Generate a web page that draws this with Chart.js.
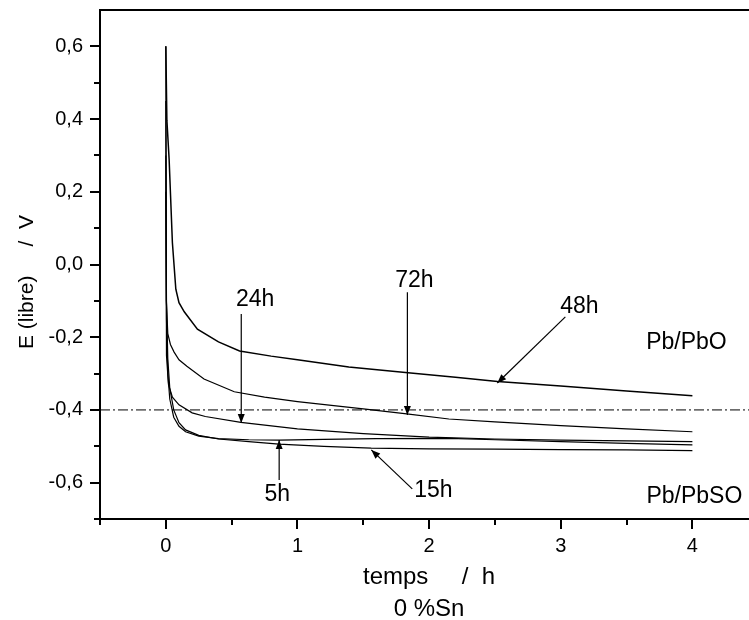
<!DOCTYPE html>
<html>
<head>
<meta charset="utf-8">
<script src="https://cdn.jsdelivr.net/npm/chart.js@4.4.1/dist/chart.umd.min.js"></script>
<style>html,body{margin:0;padding:0;background:#fff;}canvas{display:block;}</style>
</head>
<body>
<canvas id="c" width="749" height="620"></canvas>
<script>
// ---- data (time in h, potential in V) ----
const t5  = [0, 0.005, 0.015, 0.03, 0.06, 0.1, 0.15, 0.25, 0.4, 0.63, 0.86, 1.2, 1.6, 2.15, 2.5, 3.0, 3.5, 4.0];
const e5  = [0.3, -0.15, -0.3, -0.37, -0.42, -0.445, -0.46, -0.472, -0.479, -0.482, -0.483, -0.481, -0.479, -0.478, -0.482, -0.487, -0.492, -0.496];
const t15 = [0, 0.005, 0.015, 0.03, 0.06, 0.1, 0.15, 0.25, 0.4, 0.63, 0.86, 1.2, 1.56, 2.0, 2.5, 3.0, 3.5, 4.0];
const e15 = [0.2, -0.1, -0.26, -0.34, -0.4, -0.435, -0.455, -0.47, -0.48, -0.487, -0.494, -0.5, -0.505, -0.507, -0.508, -0.509, -0.51, -0.512];
const t24 = [0, 0.005, 0.02, 0.05, 0.1, 0.2, 0.3, 0.57, 1.0, 1.5, 2.0, 2.5, 3.0, 3.5, 4.0];
const e24 = [0.45, -0.25, -0.33, -0.365, -0.386, -0.408, -0.418, -0.434, -0.452, -0.465, -0.475, -0.48, -0.483, -0.485, -0.487];
const t48 = [0, 0.008, 0.025, 0.05, 0.076, 0.1, 0.14, 0.24, 0.4, 0.56, 0.8, 1.0, 1.39, 1.84, 2.2, 2.52, 3.0, 3.5, 4.0];
const e48 = [0.6, 0.397, 0.29, 0.06, -0.068, -0.105, -0.13, -0.178, -0.213, -0.238, -0.252, -0.262, -0.282, -0.298, -0.31, -0.322, -0.334, -0.348, -0.361];
const t72 = [0, 0.004, 0.015, 0.035, 0.063, 0.1, 0.16, 0.29, 0.52, 0.75, 1.0, 1.5, 1.83, 2.15, 2.5, 3.0, 3.5, 4.0];
const e72 = [0.6, -0.1, -0.19, -0.22, -0.241, -0.262, -0.28, -0.315, -0.35, -0.365, -0.377, -0.397, -0.411, -0.425, -0.433, -0.443, -0.452, -0.46];
const seriesNames = ['5h', '15h', '24h', '48h', '72h'];
const refLevel = -0.4;   // dash-dot reference line

// ---- axes ----
const xMin = -0.5, xMax = 4.43, yMin = -0.7, yMax = 0.7;
const xMajorTicks = [0, 1, 2, 3, 4];
const xTickLabels = ['0', '1', '2', '3', '4'];
const xMinorTicks = [-0.5, 0.5, 1.5, 2.5, 3.5];
const yMajorTicks = [-0.6, -0.4, -0.2, 0, 0.2, 0.4, 0.6];
const yTickLabels = ['-0,6', '-0,4', '-0,2', '0,0', '0,2', '0,4', '0,6'];
const yMinorTicks = [-0.7, -0.5, -0.3, -0.1, 0.1, 0.3, 0.5];
const xTitle = 'temps     /  h';
const xSubTitle = '0 %Sn';
const yTitle = 'E (libre)     /  V';

// ---- annotations (data coordinates) ----
const annTexts = ['24h', '72h', '48h', '5h', '15h', 'Pb/PbO', 'Pb/PbSO'];
const annX     = [0.679, 1.888, 3.142, 0.846, 2.032, 3.955, 3.651];
const annY     = [-0.114, -0.062, -0.133, -0.651, -0.640, -0.232, -0.656];
const annAlign = ['center', 'center', 'center', 'center', 'center', 'center', 'left'];
const arrowX1 = [0.573, 1.835, 3.035, 0.861, 1.872];
const arrowY1 = [-0.136, -0.076, -0.144, -0.593, -0.617];
const arrowX2 = [0.573, 1.835, 2.518, 0.861, 1.561];
const arrowY2 = [-0.436, -0.414, -0.326, -0.483, -0.510];

const FONT = "'Liberation Sans', Arial, Helvetica, sans-serif";
const pts = (t, e) => t.map((v, i) => ({x: v, y: e[i]}));

const seriesT = [t5, t15, t24, t48, t72];
const seriesE = [e5, e15, e24, e48, e72];
const datasets = seriesNames.map((n, i) => ({
  label: n,
  data: pts(seriesT[i], seriesE[i]),
  showLine: true,
  borderColor: '#000',
  borderWidth: n === '48h' ? 1.5 : 1.2,
  pointRadius: 0,
  tension: 0,
  fill: false
}));
datasets.push({
  label: 'ref',
  data: [{x: xMin, y: refLevel}, {x: xMax, y: refLevel}],
  showLine: true,
  borderColor: '#000',
  borderWidth: 1,
  borderDash: [10, 3, 2, 3],
  pointRadius: 0,
  fill: false
});

const decor = {
  id: 'decor',
  afterDraw(chart) {
    const {ctx, chartArea: a, scales: {x, y}} = chart;
    ctx.save();
    ctx.strokeStyle = '#000';
    ctx.fillStyle = '#000';
    // top frame line
    ctx.lineWidth = 2;
    ctx.beginPath();
    ctx.moveTo(a.left - 1, a.top);
    ctx.lineTo(a.right, a.top);
    ctx.stroke();
    // minor ticks
    ctx.beginPath();
    yMinorTicks.forEach(v => {
      const py = Math.round(y.getPixelForValue(v));
      ctx.moveTo(a.left, py); ctx.lineTo(a.left - 6, py);
    });
    xMinorTicks.forEach(v => {
      const px = Math.round(x.getPixelForValue(v));
      ctx.moveTo(px, a.bottom); ctx.lineTo(px, a.bottom + 6);
    });
    ctx.stroke();
    // arrows
    ctx.lineWidth = 1.2;
    arrowX1.forEach((_, i) => {
      const x1 = x.getPixelForValue(arrowX1[i]), y1 = y.getPixelForValue(arrowY1[i]);
      const x2 = x.getPixelForValue(arrowX2[i]), y2 = y.getPixelForValue(arrowY2[i]);
      ctx.beginPath(); ctx.moveTo(x1, y1); ctx.lineTo(x2, y2); ctx.stroke();
      const ang = Math.atan2(y2 - y1, x2 - x1), L = 9, W = 3.5;
      ctx.beginPath();
      ctx.moveTo(x2, y2);
      ctx.lineTo(x2 - L * Math.cos(ang) + W * Math.sin(ang), y2 - L * Math.sin(ang) - W * Math.cos(ang));
      ctx.lineTo(x2 - L * Math.cos(ang) - W * Math.sin(ang), y2 - L * Math.sin(ang) + W * Math.cos(ang));
      ctx.closePath(); ctx.fill();
    });
    // annotation labels
    ctx.font = '23px ' + FONT;
    ctx.textBaseline = 'alphabetic';
    annTexts.forEach((s, i) => {
      ctx.textAlign = annAlign[i];
      ctx.fillText(s, x.getPixelForValue(annX[i]), y.getPixelForValue(annY[i]));
    });
    // axis titles
    ctx.font = '24px ' + FONT;
    ctx.textAlign = 'center';
    const cx = a.left + 329;
    ctx.fillText(xTitle, cx, 584);
    ctx.fillText(xSubTitle, cx, 616);
    ctx.save();
    ctx.font = '21px ' + FONT;
    ctx.translate(33, 282);
    ctx.rotate(-Math.PI / 2);
    ctx.fillText(yTitle, 0, 0);
    ctx.restore();
    ctx.restore();
  }
};

const near = (arr, v) => arr.findIndex(a => Math.abs(a - v) < 1e-6);

new Chart(document.getElementById('c'), {
  type: 'scatter',
  data: {datasets},
  options: {
    responsive: false,
    animation: false,
    layout: {padding: {top: 10, left: 0, right: 0, bottom: 0}},
    plugins: {legend: {display: false}, tooltip: {enabled: false}},
    scales: {
      x: {
        type: 'linear', min: xMin, max: xMax,
        afterBuildTicks: s => { s.ticks = xMajorTicks.map(v => ({value: v})); },
        afterFit: s => { s.height = 101; s.paddingLeft = 0; s.paddingRight = 0; },
        grid: {drawOnChartArea: false, drawTicks: true, tickLength: 10, color: '#000', lineWidth: 2},
        border: {display: true, color: '#000', width: 2},
        ticks: {color: '#000', font: {family: FONT, size: 20}, padding: 5, maxRotation: 0, autoSkip: false,
          callback: v => { const i = near(xMajorTicks, v); return i >= 0 ? xTickLabels[i] : ''; }}
      },
      y: {
        type: 'linear', min: yMin, max: yMax,
        afterBuildTicks: s => { s.ticks = yMajorTicks.map(v => ({value: v})); },
        afterFit: s => { s.width = 100; s.paddingTop = 0; s.paddingBottom = 0; },
        grid: {drawOnChartArea: false, drawTicks: true, tickLength: 10, color: '#000', lineWidth: 2},
        border: {display: true, color: '#000', width: 2},
        ticks: {color: '#000', font: {family: FONT, size: 20}, padding: 7, autoSkip: false,
          callback: v => { const i = near(yMajorTicks, v); return i >= 0 ? yTickLabels[i] : ''; }}
      }
    }
  },
  plugins: [decor]
});
</script>
</body>
</html>
